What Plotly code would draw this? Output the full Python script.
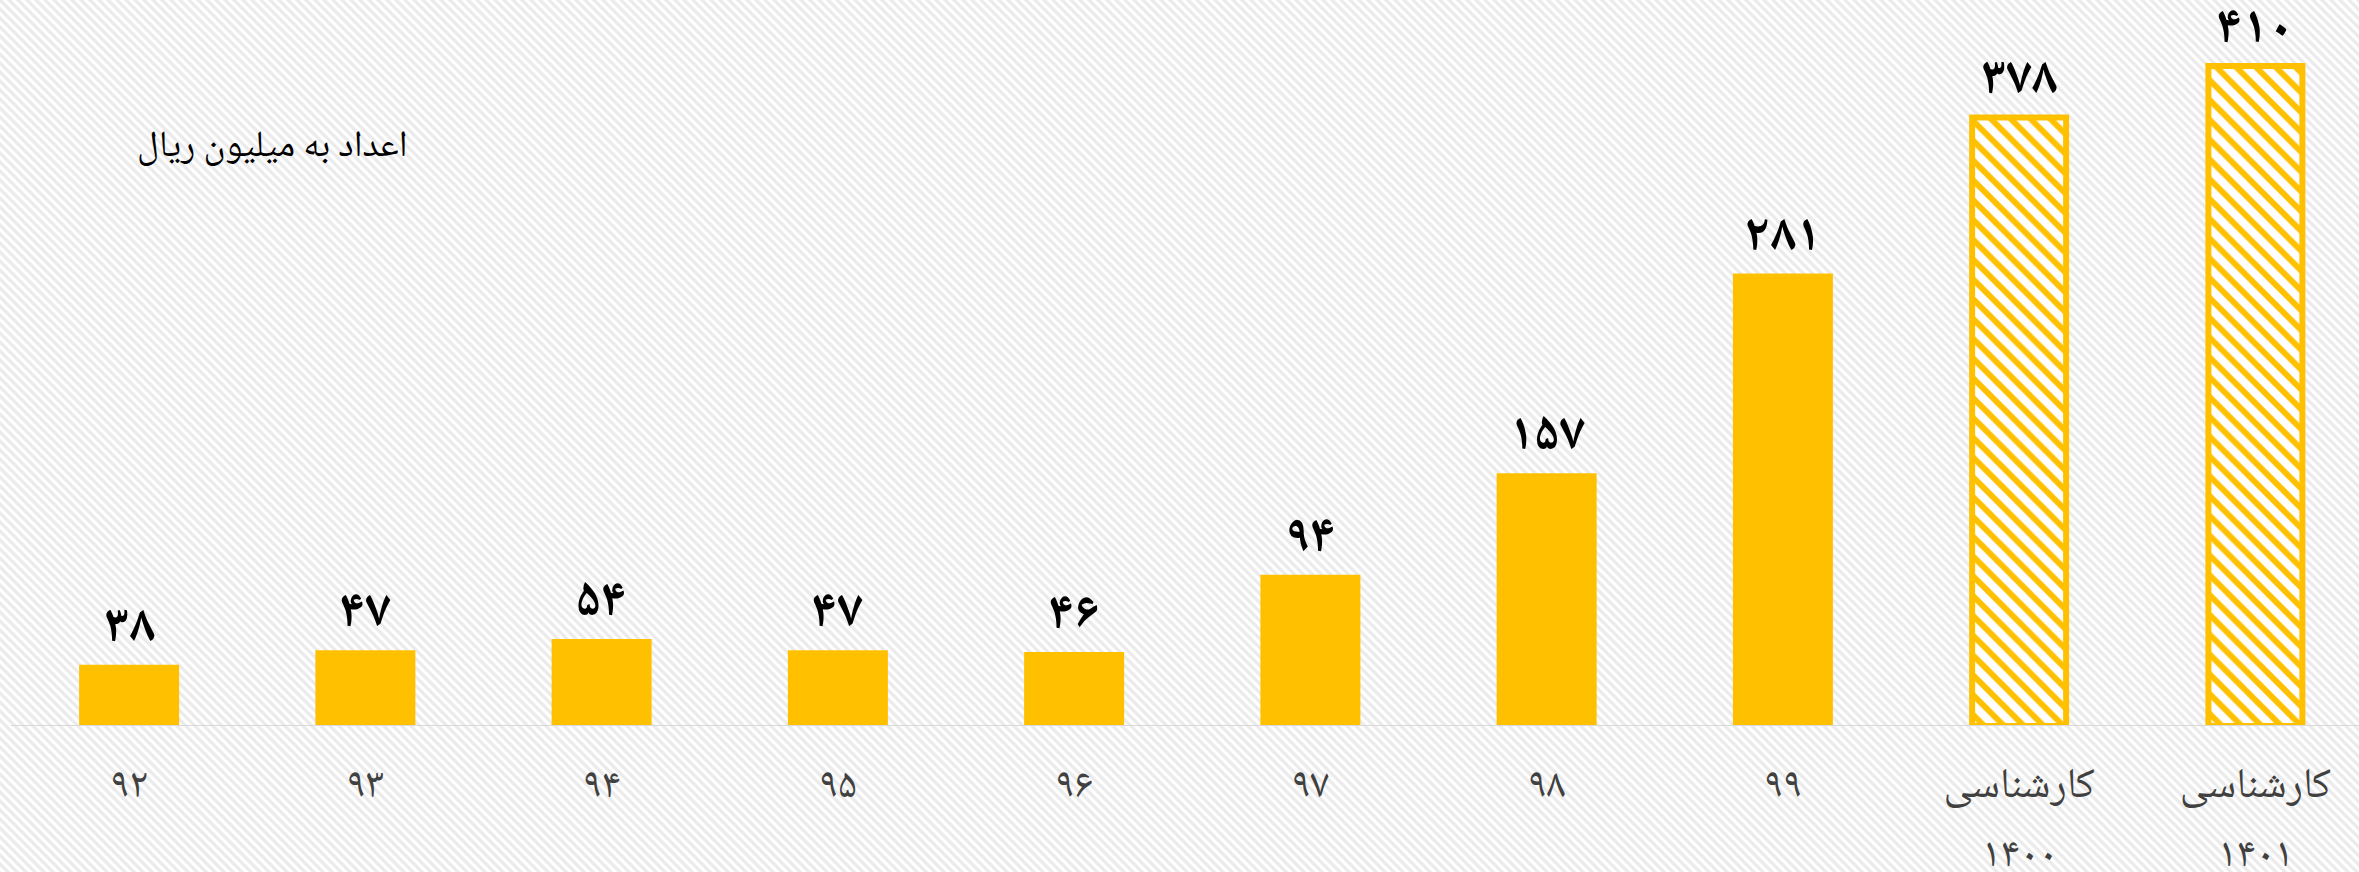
import base64
import plotly.graph_objects as go

# Values in million rials per year; the last two are expert estimates
categories = ["۹۲", "۹۳", "۹۴", "۹۵", "۹۶", "۹۷", "۹۸", "۹۹", "کارشناسی", "کارشناسی"]
sub_labels = ["", "", "", "", "", "", "", "", "۱۴۰۰", "۱۴۰۱"]
values = [38, 47, 54, 47, 46, 94, 157, 281, 378, 410]
estimated = [False] * 8 + [True, True]

PERSIAN = str.maketrans("0123456789", "۰۱۲۳۴۵۶۷۸۹")
value_text = [str(v).translate(PERSIAN) for v in values]

GOLD = "#FFC000"
FONT = "Noto Naskh Arabic, Noto Sans Arabic, DejaVu Sans, sans-serif"

W, H = 2359, 872
ML, MB = 11, 146
plot_w = W - ML
plot_h = H - MB
px_per_cat = 236.25
px_per_unit = 1.61

xs = list(range(len(categories)))

fig = go.Figure()

solid = [i for i in xs if not estimated[i]]
hatched = [i for i in xs if estimated[i]]

fig.add_trace(go.Bar(
    x=solid, y=[values[i] for i in solid],
    width=100 / px_per_cat,
    marker=dict(color=GOLD, line=dict(width=0)),
    hoverinfo="skip",
))
fig.add_trace(go.Bar(
    x=hatched, y=[values[i] for i in hatched],
    width=94 / px_per_cat,
    marker=dict(
        color="white",
        line=dict(color=GOLD, width=6),
        pattern=dict(shape="\\", fgcolor=GOLD, bgcolor="white", fgopacity=1,
                     size=14, solidity=0.42, fillmode="overlay"),
    ),
    hoverinfo="skip",
))

# value labels above each bar
for i in xs:
    fig.add_annotation(
        x=i, y=values[i], text=value_text[i], showarrow=False,
        yanchor="bottom", yshift=-11,
        font=dict(family=FONT, size=52, color="black", weight="bold"),
    )

# second line of the estimate category labels
for i in xs:
    if sub_labels[i]:
        fig.add_annotation(
            x=i, xref="x", yref="paper", y=(plot_h - 857) / plot_h,
            text=sub_labels[i], showarrow=False, yanchor="middle",
            font=dict(family=FONT, size=42, color="#404040"),
        )

fig.add_annotation(
    xref="paper", yref="paper",
    x=(410 - ML) / plot_w, y=(plot_h - 148) / plot_h,
    xanchor="right", yanchor="middle",
    text="اعداد به میلیون ریال", showarrow=False,
    font=dict(family=FONT, size=37, color="black"),
)

# diagonal striped page background
p = 9
svg = f'''<svg xmlns="http://www.w3.org/2000/svg" width="{W}" height="{H}">
<defs><pattern id="s" width="{p}" height="{p}" patternUnits="userSpaceOnUse">
<rect width="{p}" height="{p}" fill="white"/>
<path d="M-2,-2 L{p+2},{p+2} M-2,{p-2} L2,{p+2} M{p-2},-2 L{p+2},2" stroke="#EBEBEB" stroke-width="3.2"/>
</pattern></defs>
<rect width="{W}" height="{H}" fill="url(#s)"/></svg>'''
src = "data:image/svg+xml;base64," + base64.b64encode(svg.encode()).decode()
fig.add_layout_image(
    source=src, xref="paper", yref="paper",
    x=-ML / plot_w, y=1, sizex=W / plot_w, sizey=H / plot_h,
    xanchor="left", yanchor="top", sizing="stretch", layer="below",
)

fig.update_layout(
    width=W, height=H,
    margin=dict(l=ML, r=0, t=0, b=MB),
    paper_bgcolor="white", plot_bgcolor="rgba(0,0,0,0)",
    showlegend=False, barmode="overlay",
    xaxis=dict(
        range=[-0.5, -0.5 + plot_w / px_per_cat],
        tickmode="array", tickvals=xs, ticktext=categories,
        showgrid=False, zeroline=False, showline=False,
        ticks="", ticklabelstandoff=28,
        tickfont=dict(family=FONT, size=42, color="#404040"),
    ),
    yaxis=dict(
        range=[0, plot_h / px_per_unit], visible=False,
        showgrid=False, zeroline=False,
    ),
    shapes=[dict(type="line", xref="paper", yref="y", x0=0, x1=1, y0=0, y1=0,
                 line=dict(color="#D9D9D9", width=2), layer="above")],
)

fig.write_html("out.html")
